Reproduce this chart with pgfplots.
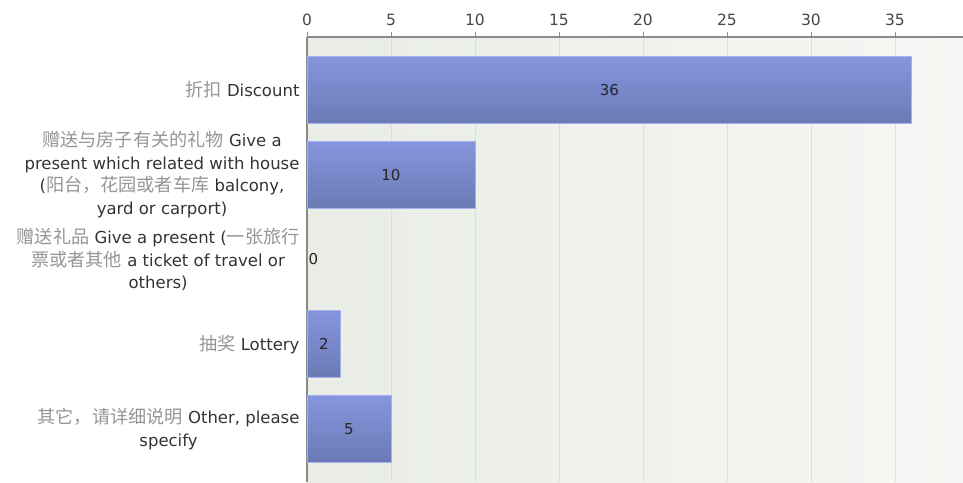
\documentclass[border=0pt]{standalone}
\usepackage{pgfplots}
\pgfplotsset{compat=1.18}
\usepackage{fontspec}
\setmainfont{DejaVu Sans}
\newfontfamily\cjk[Scale=1.1]{Noto Sans CJK SC}
\definecolor{zhgray}{HTML}{959595}
\definecolor{engray}{HTML}{333333}
\definecolor{barTop}{HTML}{8596DE}
\definecolor{barBot}{HTML}{6B79B4}
\definecolor{barEdge}{HTML}{A3B1EE}
\definecolor{bgL}{HTML}{E9EDE6}
\definecolor{bgR}{HTML}{F6F7F4}
\definecolor{gridc}{HTML}{DCDEDA}
\definecolor{axc}{HTML}{8A8A8A}
\newcommand\zh[1]{{\cjk\color{zhgray}#1}}
\pgfplotsset{
  mybar/.style={xbar, draw=barEdge, line width=0.6pt, top color=barTop, bottom color=barBot,
    nodes near coords,
    visualization depends on={rawx \as \rawx},
    every node near coord/.append style={anchor=center, shift={(axis direction cs:-\rawx/2,0)},
      font=\fontsize{15}{18}\selectfont, text=black!85, /pgf/number format/assume math mode=true}},
}
\begin{document}
\begin{tikzpicture}
\begin{axis}[
  scale only axis, width=656pt, height=445pt,
  xmin=0, xmax=39.05, ymin=-0.625, ymax=4.625,
  axis x line*=top, axis y line*=left,
  axis line style={axc, line width=1.2pt},
  xtick={0,5,...,35}, ytick={0,1,2,3,4},
  yticklabels={
    {\zh{其它，请详细说明} Other, please\\specify},
    {\zh{抽奖} Lottery},
    {\zh{赠送礼品} Give a present (\zh{一张旅行}\\\zh{票或者其他} a ticket of travel or\\others)},
    {\zh{赠送与房子有关的礼物} Give a\\present which related with house\\(\zh{阳台，花园或者车库} balcony,\\yard or carport)},
    {\zh{折扣} Discount}
  },
  ytick style={draw=none},
  xtick align=outside,
  xtick style={axc, line width=0.8pt},
  major tick length=5pt,
  xmajorgrids, grid style={gridc, line width=0.8pt},
  axis background/.style={left color=bgL, right color=bgR},
  yticklabel style={align=center, font=\fontsize{16.5}{22.5}\selectfont, text=engray, xshift=-4pt},
  xticklabel style={font=\fontsize{15.5}{18}\selectfont, text=engray!90, yshift=3pt},
  /pgf/number format/assume math mode=true,
  bar width=0.79, bar shift=0pt,
]
\addplot[mybar] coordinates {(36,4)};
\addplot[mybar] coordinates {(10,3)};
\addplot[mybar] coordinates {(2,1)};
\addplot[mybar] coordinates {(5,0)};
\addplot[xbar, draw=none, fill=none,
  nodes near coords,
  every node near coord/.append style={anchor=west, xshift=-2pt,
    font=\fontsize{15}{18}\selectfont, text=black!85, /pgf/number format/assume math mode=true}]
  coordinates {(0,2)};
\end{axis}
\pgfresetboundingbox
\path[use as bounding box] ([xshift=-307pt]current axis.south west) rectangle ([yshift=37pt]current axis.north east);
\end{tikzpicture}
\end{document}
